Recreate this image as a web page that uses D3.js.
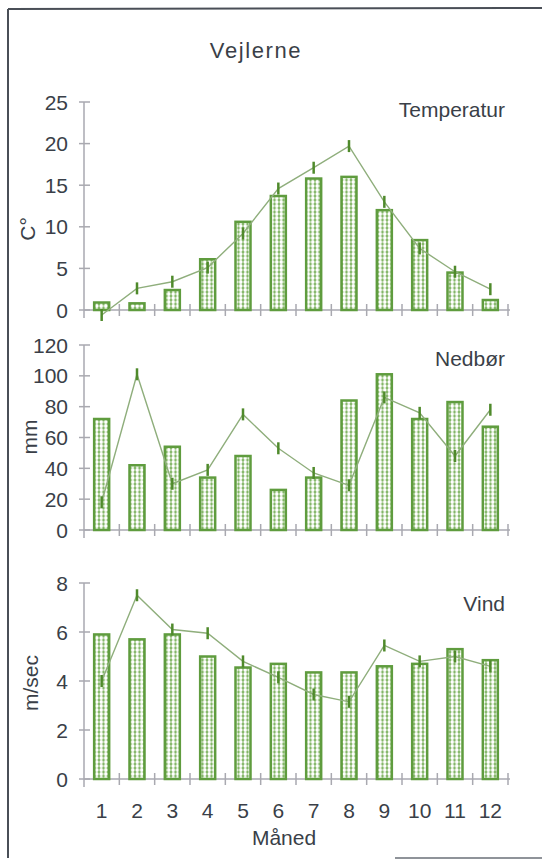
<!DOCTYPE html>
<html><head><meta charset="utf-8">
<script src="https://cdn.jsdelivr.net/npm/d3@7/dist/d3.min.js"></script>
<style>
html,body{margin:0;padding:0;background:#fff;}
svg{display:block;font-family:"Liberation Sans",Arial,sans-serif;}
</style></head>
<body>
<svg id="chart" width="542" height="859"></svg>
<script>
const months = [1,2,3,4,5,6,7,8,9,10,11,12];
const tempBars = [0.9,0.8,2.4,6.1,10.6,13.7,15.8,16.0,12.0,8.4,4.5,1.2];
const tempLine = [-0.6,2.6,3.4,5.1,9.2,14.6,17.1,19.7,13.0,7.4,4.6,2.5];
const precipBars = [72,42,54,34,48,26,34,84,101,72,83,67];
const precipLine = [18,101,30,39,75,53,37,29,86,76,48,78];
const windBars = [5.9,5.7,5.9,5.0,4.55,4.7,4.35,4.35,4.6,4.7,5.3,4.85];
const windLine = [4.0,7.5,6.1,5.95,4.8,4.15,3.45,3.15,5.45,4.8,5.0,4.6];
const tempTicks = [0,5,10,15,20,25];
const precipTicks = [0,20,40,60,80,100,120];
const windTicks = [0,2,4,6,8];

const svg = d3.select("#chart");
const textCol = "#3a3f48", axisCol = "#a9a9b0", barCol = "#5f9c3e", lineCol = "#8fae7c", markCol = "#4f8a2b";

const defs = svg.append("defs");
const pat = defs.append("pattern").attr("id","dots").attr("patternUnits","userSpaceOnUse")
  .attr("width",4.5).attr("height",4);
pat.append("rect").attr("width",4.5).attr("height",4).attr("fill","#79b05a");
pat.append("circle").attr("cx",2.25).attr("cy",2).attr("r",1.9).attr("fill","#fff");

// frame
svg.append("line").attr("x1",8).attr("x2",8).attr("y1",9).attr("y2",858).attr("stroke","#4a4f57").attr("stroke-width",2);
svg.append("line").attr("x1",8).attr("x2",542).attr("y1",9).attr("y2",8).attr("stroke","#4a4f57").attr("stroke-width",2);
svg.append("line").attr("x1",395).attr("x2",542).attr("y1",858).attr("y2",858).attr("stroke","#6a6f77").attr("stroke-width",1.5);

svg.append("text").attr("x",256).attr("y",58).attr("text-anchor","middle")
  .attr("font-size",22).attr("letter-spacing",1.6).attr("fill",textCol).text("Vejlerne");

const x = d3.scaleBand().domain(months).range([84,508]).paddingInner(0).paddingOuter(0);
const barW = 15;

function panel(opts){
  const y = d3.scaleLinear().domain(opts.domain).range([opts.y0, opts.y1]);
  const g = svg.append("g");
  g.append("line").attr("x1",84).attr("x2",84).attr("y1",opts.y1).attr("y2",opts.y0+8)
    .attr("stroke",axisCol).attr("stroke-width",1.5);
  g.selectAll(".yt").data(opts.ticks).join("line")
    .attr("x1",79).attr("x2",90).attr("y1",d=>y(d)).attr("y2",d=>y(d))
    .attr("stroke",axisCol).attr("stroke-width",1.5);
  g.selectAll(".yl").data(opts.ticks).join("text")
    .attr("x",68).attr("y",d=>y(d)+7.5).attr("text-anchor","end")
    .attr("font-size",21).attr("fill",textCol).text(d=>d);
  g.append("line").attr("x1",84).attr("x2",510).attr("y1",y(0)).attr("y2",y(0))
    .attr("stroke",axisCol).attr("stroke-width",1.5);
  const bounds = months.map(m=>x(m)+x.bandwidth());
  g.selectAll(".xt").data(bounds).join("line")
    .attr("x1",d=>d).attr("x2",d=>d).attr("y1",y(0)-6).attr("y2",y(0)+6)
    .attr("stroke",axisCol).attr("stroke-width",1.5);
  g.selectAll(".bar").data(opts.bars).join("rect")
    .attr("x",(d,i)=>x(months[i])+x.bandwidth()/2-barW/2)
    .attr("y",d=>y(d)).attr("width",barW).attr("height",d=>y(0)-y(d))
    .attr("fill","url(#dots)").attr("stroke",barCol).attr("stroke-width",2.5);
  const line = d3.line().x((d,i)=>x(months[i])+x.bandwidth()/2).y(d=>y(d));
  g.append("path").datum(opts.line).attr("d",line).attr("fill","none")
    .attr("stroke",lineCol).attr("stroke-width",1.4);
  g.selectAll(".mk").data(opts.line).join("line")
    .attr("x1",(d,i)=>x(months[i])+x.bandwidth()/2).attr("x2",(d,i)=>x(months[i])+x.bandwidth()/2)
    .attr("y1",d=>y(d)-6).attr("y2",d=>y(d)+6)
    .attr("stroke",markCol).attr("stroke-width",2.5);
  g.append("text").attr("x",505).attr("y",opts.titleY).attr("text-anchor","end")
    .attr("font-size",21).attr("fill",textCol).text(opts.title);
  g.append("text").attr("transform",`translate(${opts.labX},${opts.labY}) rotate(-90)`)
    .attr("text-anchor","middle").attr("font-size",21).attr("fill",textCol).text(opts.unit);
  return y;
}

panel({domain:[0,25], y0:310, y1:102, ticks:tempTicks, bars:tempBars, line:tempLine,
  title:"Temperatur", titleY:117, unit:"C°", labX:35, labY:229});
panel({domain:[0,120], y0:530, y1:345, ticks:precipTicks, bars:precipBars, line:precipLine,
  title:"Nedbør", titleY:366, unit:"mm", labX:37, labY:437});
panel({domain:[0,8], y0:779, y1:583, ticks:windTicks, bars:windBars, line:windLine,
  title:"Vind", titleY:611, unit:"m/sec", labX:38, labY:683});

svg.selectAll(".mo").data(months).join("text")
  .attr("x",d=>x(d)+x.bandwidth()/2).attr("y",818).attr("text-anchor","middle")
  .attr("font-size",21).attr("fill",textCol).text(d=>d);
svg.append("text").attr("x",284).attr("y",845).attr("text-anchor","middle")
  .attr("font-size",21).attr("fill",textCol).text("Måned");
</script>
</body></html>
